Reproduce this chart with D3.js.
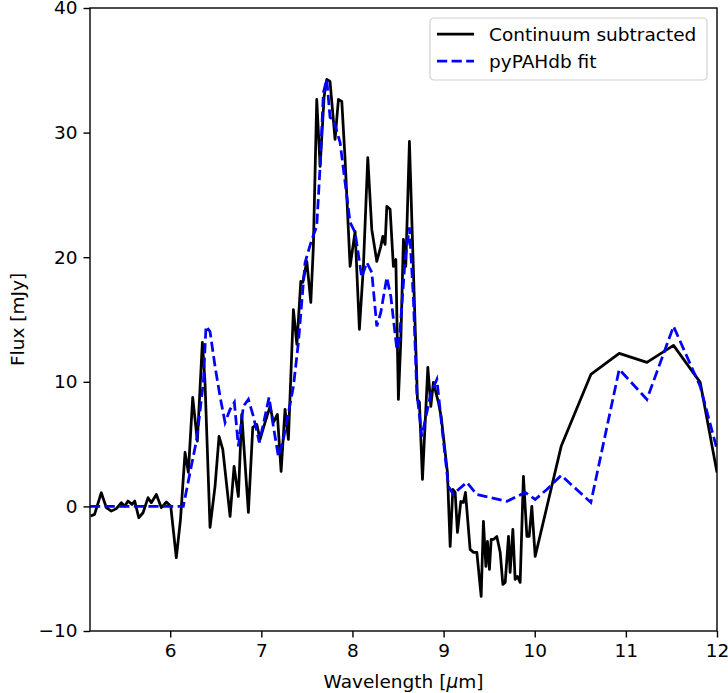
<!DOCTYPE html>
<html>
<head>
<meta charset="utf-8">
<script src="https://cdn.jsdelivr.net/npm/d3@7"></script>
<style>
  body { margin: 0; background: #fff; }
  text { font-family: "DejaVu Sans", sans-serif; }
</style>
</head>
<body>
<svg id="chart" width="728" height="693"></svg>
<script>
// continuum-subtracted spectrum
const contWave = [5.128, 5.17, 5.244, 5.299, 5.354, 5.409, 5.464, 5.501, 5.537, 5.581, 5.611, 5.655, 5.702, 5.757, 5.793, 5.848, 5.903, 5.958, 6.006, 6.067,
  6.113, 6.163, 6.199, 6.247, 6.298, 6.353, 6.382, 6.437, 6.492, 6.536, 6.577, 6.657, 6.701, 6.748, 6.785, 6.858, 6.906, 6.95, 6.986, 7.041,
  7.096, 7.132, 7.176, 7.217, 7.26, 7.297, 7.352, 7.39, 7.433, 7.455, 7.499, 7.543, 7.571, 7.608, 7.645, 7.689, 7.718, 7.754, 7.809, 7.846,
  7.883, 7.919, 7.974, 8.029, 8.076, 8.12, 8.168, 8.212, 8.267, 8.311, 8.333, 8.358, 8.377, 8.413, 8.449, 8.476, 8.504, 8.531, 8.559, 8.585,
  8.625, 8.658, 8.713, 8.735, 8.768, 8.827, 8.86, 8.888, 8.943, 8.973, 9.042, 9.072, 9.101, 9.127, 9.152, 9.189, 9.218, 9.24, 9.291, 9.328,
  9.365, 9.412, 9.437, 9.464, 9.481, 9.503, 9.522, 9.547, 9.584, 9.621, 9.65, 9.676, 9.712, 9.73, 9.76, 9.785, 9.81, 9.84, 9.876, 9.914,
  9.939, 9.968, 10.005, 10.29, 10.616, 10.927, 11.231, 11.523, 11.816, 12.0];
const contFlux = [-0.78, -0.64, 1.1, -0.1, -0.38, -0.18, 0.3, 0.02, 0.43, 0.16, 0.43, -0.91, -0.51, 0.7, 0.3, 0.96, -0.1, 0.35, 0.02, -4.12,
  -1.04, 4.33, 2.73, 8.75, 5.24, 13.16, 9.95, -1.69, 1.61, 5.62, 4.57, -0.8, 3.21, 0.8, 7.38, -0.48, 6.34, 6.58, 5.38, 6.74,
  8.03, 6.74, 7.38, 2.81, 7.78, 5.38, 15.8, 13.0, 18.06, 17.98, 19.66, 16.37, 20.87, 32.66, 27.29, 32.9, 34.27, 34.1, 29.45, 32.66,
  32.5, 27.85, 19.26, 22.07, 14.2, 19.26, 28.0, 22.23, 19.66, 20.87, 21.67, 21.03, 24.08, 23.84, 19.26, 19.82, 8.59, 13.4, 21.43, 19.26,
  29.29, 21.43, 8.59, 8.35, 2.17, 11.16, 8.03, 9.95, 8.35, 7.22, 2.73, -3.21, 1.36, 1.12, -2.09, 0.4, 0.32, 1.12, -3.45, -3.69,
  -3.69, -7.22, -1.2, -4.82, -2.81, -5.06, -2.65, -2.65, -2.41, -3.69, -6.26, -6.1, -2.41, -5.3, -1.85, -5.86, -5.62, -6.1, 2.41, -2.41,
  -2.41, 0.0, -4.01, 4.82, 10.59, 12.28, 11.56, 12.92, 9.95, 2.73];

// pyPAHdb fit
const fitWave = [5.12, 5.5, 5.8, 6.0, 6.144, 6.218, 6.291, 6.364, 6.393, 6.437, 6.492, 6.547, 6.602, 6.657, 6.704, 6.748, 6.803, 6.858, 6.913, 6.978,
  7.033, 7.085, 7.132, 7.187, 7.242, 7.304, 7.352, 7.407, 7.48, 7.554, 7.608, 7.645, 7.681, 7.718, 7.754, 7.791, 7.864, 7.919, 7.974, 8.029,
  8.102, 8.157, 8.212, 8.267, 8.311, 8.377, 8.421, 8.487, 8.515, 8.578, 8.625, 8.669, 8.706, 8.761, 8.816, 8.863, 8.926, 8.981, 9.053, 9.108,
  9.163, 9.255, 9.365, 9.511, 9.694, 9.804, 9.895, 10.005, 10.133, 10.29, 10.616, 10.927, 11.231, 11.523, 11.816, 12.0];
const fitFlux = [0, 0, 0, 0, 0, 2.73, 5.38, 9.95, 14.45, 14.04, 11.24, 8.83, 6.74, 7.78, 8.35, 4.82, 8.03, 8.59, 7.22, 5.14,
  6.98, 8.75, 6.42, 4.01, 5.38, 7.78, 9.63, 13.16, 19.58, 21.43, 22.47, 27.29, 33.23, 34.27, 31.22, 31.06, 29.21, 26.0, 22.79, 21.99,
  18.38, 19.58, 18.78, 14.45, 15.57, 18.38, 16.85, 12.6, 13.4, 19.82, 22.39, 16.61, 9.15, 5.62, 7.54, 9.15, 10.19, 6.42, 1.61, 0.96,
  1.36, 1.93, 0.96, 0.72, 0.4, 0.8, 1.12, 0.56, 1.36, 2.49, 0.32, 11.0, 8.59, 14.45, 9.63, 4.57];

const xTicks = [6, 7, 8, 9, 10, 11, 12];
const yTicks = [-10, 0, 10, 20, 30, 40];
const legendLabels = ["Continuum subtracted", "pyPAHdb fit"];

const fs = 18.5;          // 10pt at ~133 dpi
const lw = 2.75;          // 1.5pt line
const dash = "10.2,4.4";  // matplotlib "--"

const margin = { left: 90, right: 11, top: 8, bottom: 62 };
const W = 728, H = 693;
const iw = W - margin.left - margin.right;
const ih = H - margin.top - margin.bottom;

const svg = d3.select("#chart");
const g = svg.append("g").attr("transform", `translate(${margin.left},${margin.top})`);

const x = d3.scaleLinear().domain([5.12, 12]).range([0, iw]);
const y = d3.scaleLinear().domain([-10, 40]).range([ih, 0]);

svg.append("defs").append("clipPath").attr("id", "clip")
  .append("rect").attr("width", iw).attr("height", ih);

const line = d3.line().x(d => x(d[0])).y(d => y(d[1]));

const plot = g.append("g").attr("clip-path", "url(#clip)");

plot.append("path")
  .datum(d3.zip(contWave, contFlux))
  .attr("d", line)
  .attr("fill", "none")
  .attr("stroke", "#000")
  .attr("stroke-width", lw)
  .attr("stroke-linejoin", "round");

plot.append("path")
  .datum(d3.zip(fitWave, fitFlux))
  .attr("d", line)
  .attr("fill", "none")
  .attr("stroke", "#0000ff")
  .attr("stroke-width", lw)
  .attr("stroke-dasharray", dash);

// axes
const xAxis = g.append("g").attr("transform", `translate(0,${ih})`)
  .call(d3.axisBottom(x).tickValues(xTicks).tickSize(6.5).tickPadding(6).tickFormat(d3.format("d")));
const yAxis = g.append("g")
  .call(d3.axisLeft(y).tickValues(yTicks).tickSize(6.5).tickPadding(6).tickFormat(d => d < 0 ? "\u2212" + Math.abs(d) : d));

[xAxis, yAxis].forEach(a => {
  a.selectAll("text").attr("font-size", fs).attr("fill", "#000").style("font-family", "DejaVu Sans, sans-serif");
  a.selectAll("line").attr("stroke", "#000").attr("stroke-width", 1.4);
  a.select(".domain").remove();
});

// frame
g.append("rect").attr("width", iw).attr("height", ih)
  .attr("fill", "none").attr("stroke", "#000").attr("stroke-width", 1.4);

// axis titles
const xt = svg.append("text")
  .attr("x", margin.left + iw / 2).attr("y", 688)
  .attr("text-anchor", "middle").attr("font-size", fs);
xt.append("tspan").text("Wavelength [");
xt.append("tspan").attr("font-style", "italic").text("\u03bc");
xt.append("tspan").text("m]");

svg.append("text")
  .attr("transform", `translate(24,${margin.top + ih / 2}) rotate(-90)`)
  .attr("text-anchor", "middle").attr("font-size", fs)
  .text("Flux [mJy]");

// legend
const lg = g.append("g").attr("transform", `translate(${iw - 287},10)`);
lg.append("rect").attr("width", 277).attr("height", 62).attr("rx", 4)
  .attr("fill", "#fff").attr("fill-opacity", 0.8)
  .attr("stroke", "#d0d0d0").attr("stroke-width", 1.2);
legendLabels.forEach((lab, i) => {
  const yy = 16 + i * 27;
  lg.append("line").attr("x1", 7).attr("x2", 44).attr("y1", yy).attr("y2", yy)
    .attr("stroke", i === 0 ? "#000" : "#0000ff").attr("stroke-width", lw)
    .attr("stroke-dasharray", i === 0 ? null : dash);
  lg.append("text").attr("x", 59).attr("y", yy + 6.5).attr("font-size", fs).text(lab);
});
</script>
</body>
</html>
